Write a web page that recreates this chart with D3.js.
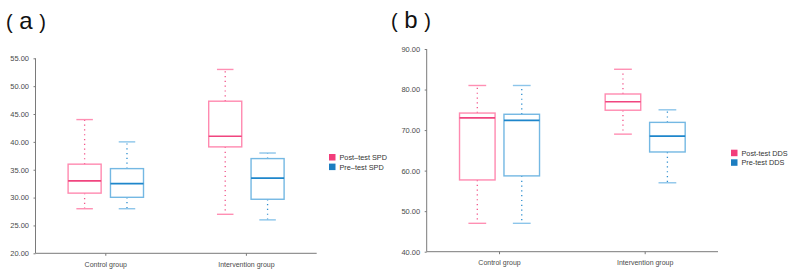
<!DOCTYPE html>
<html><head><meta charset="utf-8">
<script src="https://cdn.jsdelivr.net/npm/d3@7"></script>
<style>body{margin:0;background:#fff}svg{display:block}text{font-family:"Liberation Sans",Arial,sans-serif}</style>
</head><body><svg id="c" width="791" height="271"></svg>
<script>
// ---- data ----
const groups = ["Control group", "Intervention group"];
// [min, q1, median, q3, max] per group
const spdPost = [[28, 30.8, 33, 36, 44], [27, 39.1, 41, 47.3, 53]];
const spdPre  = [[28, 30.05, 32.5, 35.2, 40], [26, 29.7, 33.5, 37, 38]];
const ddsPost = [[47, 57.7, 73, 74.2, 81], [69, 74.9, 77, 78.9, 85]];
const ddsPre  = [[47, 58.7, 72.4, 73.9, 81], [57, 64.6, 68.5, 71.9, 75]];
const spdSeries = ["Post\u2013test SPD", "Pre\u2013test SPD"];
const ddsSeries = ["Post-test DDS", "Pre-test DDS"];
const spdTicks = [20, 25, 30, 35, 40, 45, 50, 55];
const ddsTicks = [40, 50, 60, 70, 80, 90];

const styles = [
  {box:"#ff8ab0", med:"#f0457f", dot:"#f2558a", cap:"#ff8fb3", key:"#f23d7a"},
  {box:"#74b8e3", med:"#1e86cb", dot:"#2f8fcf", cap:"#8cc5ea", key:"#1c7dc0"}
];

const svg = d3.select("#c");

function panel(cfg){
  const g = svg.append("g");
  const x = d3.scaleBand().domain(groups).range(cfg.xr).paddingInner(0).paddingOuter(0);
  const y = d3.scaleLinear().domain(cfg.dom).range(cfg.yr);
  const inner = d3.scaleBand().domain(cfg.series).range([-cfg.half, cfg.half]).paddingInner(cfg.pad);

  // axes
  const ya = g.append("g").attr("transform",`translate(${cfg.xr[0]},0)`)
    .call(d3.axisLeft(y).tickValues(cfg.ticks).tickFormat(d3.format(".2f")).tickSize(2).tickPadding(4.5));
  const xa = g.append("g").attr("transform",`translate(0,${cfg.yr[0]})`)
    .call(d3.axisBottom(x).tickSize(2.5).tickPadding(6));
  [ya, xa].forEach(a=>{
    a.select(".domain").attr("stroke","#7a7a7a").attr("stroke-width",1);
    a.selectAll(".tick line").attr("stroke","#7a7a7a");
    a.selectAll("text").attr("fill","#4a4a4a").style("font-size","7px");
  });
  ya.selectAll("text").style("font-size","7.5px");
  ya.select(".domain").attr("d",`M-0,${cfg.yr[1]}V${cfg.yr[0]}`);
  xa.select(".domain").attr("d",`M${cfg.xr[0]},0H${cfg.xr[1]}`);

  // boxes
  cfg.data.forEach((ser, si)=>{
    const st = styles[si];
    ser.forEach((d, gi)=>{
      const cx = x(groups[gi]) + x.bandwidth()/2 + inner(cfg.series[si]) ;
      const bw = inner.bandwidth();
      const mid = cx + bw/2;
      const [mn,q1,md,q3,mx] = d;
      const bg = g.append("g");
      bg.append("line").attr("x1",mid).attr("x2",mid).attr("y1",y(q3)).attr("y2",y(mx))
        .attr("stroke",st.dot).attr("stroke-width",1.3).attr("stroke-dasharray","1.2,3.6");
      bg.append("line").attr("x1",mid).attr("x2",mid).attr("y1",y(q1)).attr("y2",y(mn))
        .attr("stroke",st.dot).attr("stroke-width",1.3).attr("stroke-dasharray","1.2,3.6");
      [mn,mx].forEach(v=>bg.append("line").attr("x1",mid-bw/4).attr("x2",mid+bw/4)
        .attr("y1",y(v)).attr("y2",y(v)).attr("stroke",st.cap).attr("stroke-width",1.4));
      bg.append("rect").attr("x",cx).attr("y",y(q3)).attr("width",bw).attr("height",y(q1)-y(q3))
        .attr("fill","none").attr("stroke",st.box).attr("stroke-width",1.4);
      bg.append("line").attr("x1",cx).attr("x2",cx+bw).attr("y1",y(md)).attr("y2",y(md))
        .attr("stroke",st.med).attr("stroke-width",1.6);
    });
  });

  // legend
  const lg = g.append("g").attr("transform",`translate(${cfg.leg[0]},${cfg.leg[1]})`);
  cfg.series.forEach((s,i)=>{
    lg.append("rect").attr("x",0).attr("y",i*9.6).attr("width",6.5).attr("height",6.5).attr("fill",styles[i].key);
    lg.append("text").attr("x",10.5).attr("y",i*9.6+6).text(s).attr("fill","#333").style("font-size","7.3px");
  });

  // panel label
  const t = svg.append("text").attr("x",cfg.lab[0]).attr("y",cfg.lab[1]).attr("fill","#111");
  t.append("tspan").text("(").style("font-size","20px").style("font-weight","300");
  t.append("tspan").text(" "+cfg.letter+" ").style("font-size","24px");
  t.append("tspan").text(")").style("font-size","20px").style("font-weight","300");
}

panel({xr:[35.5,316.7], yr:[253.3,58.3], dom:[20,55], ticks:spdTicks, series:spdSeries,
  data:[spdPost, spdPre], half:37.7, pad:0.22, leg:[329,154], lab:[6,29], letter:"a"});
panel({xr:[426.7,718], yr:[251.7,49], dom:[40,90], ticks:ddsTicks, series:ddsSeries,
  data:[ddsPost, ddsPre], half:40, pad:0.2, leg:[731,149.7], lab:[391,28], letter:"b"});
</script></body></html>
